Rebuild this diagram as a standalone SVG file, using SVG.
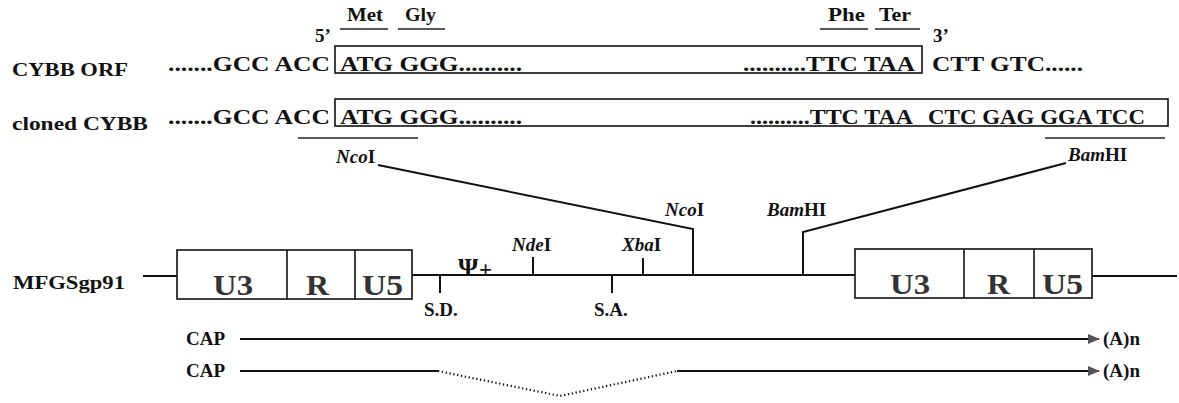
<svg xmlns="http://www.w3.org/2000/svg" width="1179" height="403" viewBox="0 0 1179 403">
<style>
text{font-family:"Liberation Serif","Times New Roman",serif;font-weight:bold;fill:#111}
.seq{font-size:21px}
.lab{font-size:19px}
.aa{font-size:18px}
.ltr{font-size:29px;fill:#333}
.it{font-style:italic}
.ln{stroke:#111;stroke-width:2;fill:none}
.bx{stroke:#111;stroke-width:1.6;fill:#fff}
.ul{stroke:#222;stroke-width:1.6}
.dot{stroke:#111;stroke-width:2.2;fill:none;stroke-dasharray:1.3 2.6}
</style>
<defs>
<marker id="ah" viewBox="0 0 12 10" refX="11" refY="5" markerWidth="13" markerHeight="10" markerUnits="userSpaceOnUse" orient="auto">
<path d="M0,0 L12,5 L0,10 Z" fill="#555"/>
</marker>
</defs>

<g id="row-orf">
<text class="lab" x="12" y="76" textLength="116" lengthAdjust="spacingAndGlyphs">CYBB ORF</text>
<text class="aa" x="347" y="21" textLength="36" lengthAdjust="spacingAndGlyphs">Met</text>
<text class="aa" x="405" y="21" textLength="31" lengthAdjust="spacingAndGlyphs">Gly</text>
<text class="aa" x="828" y="21" textLength="37" lengthAdjust="spacingAndGlyphs">Phe</text>
<text class="aa" x="879" y="21" textLength="32" lengthAdjust="spacingAndGlyphs">Ter</text>
<line class="ul" x1="340" y1="29" x2="388" y2="29"/>
<line class="ul" x1="398" y1="29" x2="445" y2="29"/>
<line class="ul" x1="820" y1="29" x2="868" y2="29"/>
<line class="ul" x1="875" y1="29" x2="920" y2="29"/>
<text class="lab" x="315" y="42">5’</text>
<text class="lab" x="933" y="42">3’</text>
<rect class="bx" x="335" y="46" width="587" height="27"/>
<text class="seq" x="168" y="71" textLength="162" lengthAdjust="spacingAndGlyphs">.......GCC ACC</text>
<text class="seq" x="340" y="71" textLength="182" lengthAdjust="spacingAndGlyphs">ATG GGG..........</text>
<text class="seq" x="743" y="71" textLength="172" lengthAdjust="spacingAndGlyphs">..........TTC TAA</text>
<text class="seq" x="932" y="71" textLength="151" lengthAdjust="spacingAndGlyphs">CTT GTC......</text>
</g>

<g id="row-cloned">
<text class="lab" x="12" y="130" textLength="136" lengthAdjust="spacingAndGlyphs">cloned CYBB</text>
<rect class="bx" x="335" y="99" width="833" height="27"/>
<text class="seq" x="168" y="124" textLength="162" lengthAdjust="spacingAndGlyphs">.......GCC ACC</text>
<text class="seq" x="340" y="124" textLength="182" lengthAdjust="spacingAndGlyphs">ATG GGG..........</text>
<text class="seq" x="750" y="124" textLength="163" lengthAdjust="spacingAndGlyphs">..........TTC TAA</text>
<text class="seq" x="928" y="124" textLength="217" lengthAdjust="spacingAndGlyphs">CTC GAG GGA TCC</text>
<line class="ul" x1="298" y1="138" x2="418" y2="138"/>
<line class="ul" x1="1045" y1="138" x2="1165" y2="138"/>
<text class="lab" x="336" y="163"><tspan class="it">Nco</tspan>I</text>
<text class="lab" x="1068" y="161"><tspan class="it">Bam</tspan>HI</text>
</g>

<g id="connectors">
<polyline class="ln" points="378,165 693,229 693,275"/>
<polyline class="ln" points="1066,163 803,232 803,275"/>
<line class="ln" x1="143" y1="276" x2="177" y2="276"/>
<line class="ln" x1="412" y1="275" x2="855" y2="275"/>
<line class="ln" x1="1092" y1="276" x2="1177" y2="276"/>
<line class="ln" x1="440" y1="275" x2="440" y2="293"/>
<line class="ln" x1="612" y1="275" x2="612" y2="293"/>
<line class="ln" x1="533" y1="257" x2="533" y2="275"/>
<line class="ln" x1="643" y1="258" x2="643" y2="275"/>
<line class="ln" x1="240" y1="339" x2="1099" y2="339" marker-end="url(#ah)"/>
<line class="ln" x1="240" y1="371" x2="438" y2="371"/>
<polyline class="dot" points="438,371 560,396 677,371"/>
<line class="ln" x1="677" y1="371" x2="1099" y2="371" marker-end="url(#ah)"/>
</g>

<g id="vector">
<text class="lab" x="13" y="289" textLength="112" lengthAdjust="spacingAndGlyphs">MFGSgp91</text>
<g id="ltr-left">
<rect class="bx" x="177" y="250" width="235" height="49"/>
<line class="bx" x1="287" y1="250" x2="287" y2="299"/>
<line class="bx" x1="355" y1="250" x2="355" y2="299"/>
<text class="ltr" x="213" y="295" textLength="40" lengthAdjust="spacingAndGlyphs">U3</text>
<text class="ltr" x="306" y="295" textLength="23" lengthAdjust="spacingAndGlyphs">R</text>
<text class="ltr" x="362" y="295" textLength="41" lengthAdjust="spacingAndGlyphs">U5</text>
</g>
<g id="ltr-right">
<rect class="bx" x="855" y="249" width="237" height="49"/>
<line class="bx" x1="964" y1="249" x2="964" y2="298"/>
<line class="bx" x1="1034" y1="249" x2="1034" y2="298"/>
<text class="ltr" x="890" y="294" textLength="40" lengthAdjust="spacingAndGlyphs">U3</text>
<text class="ltr" x="987" y="294" textLength="23" lengthAdjust="spacingAndGlyphs">R</text>
<text class="ltr" x="1042" y="294" textLength="41" lengthAdjust="spacingAndGlyphs">U5</text>
</g>
<text class="lab" x="424" y="316">S.D.</text>
<text class="lab" x="594" y="316">S.A.</text>
<text x="458" y="276" style="font-size:26px">Ψ</text>
<text x="479" y="277" style="font-size:23px">+</text>
<text class="lab" x="512" y="251"><tspan class="it">Nde</tspan>I</text>
<text class="lab" x="622" y="251"><tspan class="it">Xba</tspan>I</text>
<text class="lab" x="665" y="216"><tspan class="it">Nco</tspan>I</text>
<text class="lab" x="767" y="216"><tspan class="it">Bam</tspan>HI</text>
</g>

<g id="transcripts">
<text class="lab" x="186" y="345">CAP</text>
<text class="lab" x="186" y="377">CAP</text>
<text class="lab" x="1103" y="345">(A)n</text>
<text class="lab" x="1103" y="377">(A)n</text>
</g>
</svg>
